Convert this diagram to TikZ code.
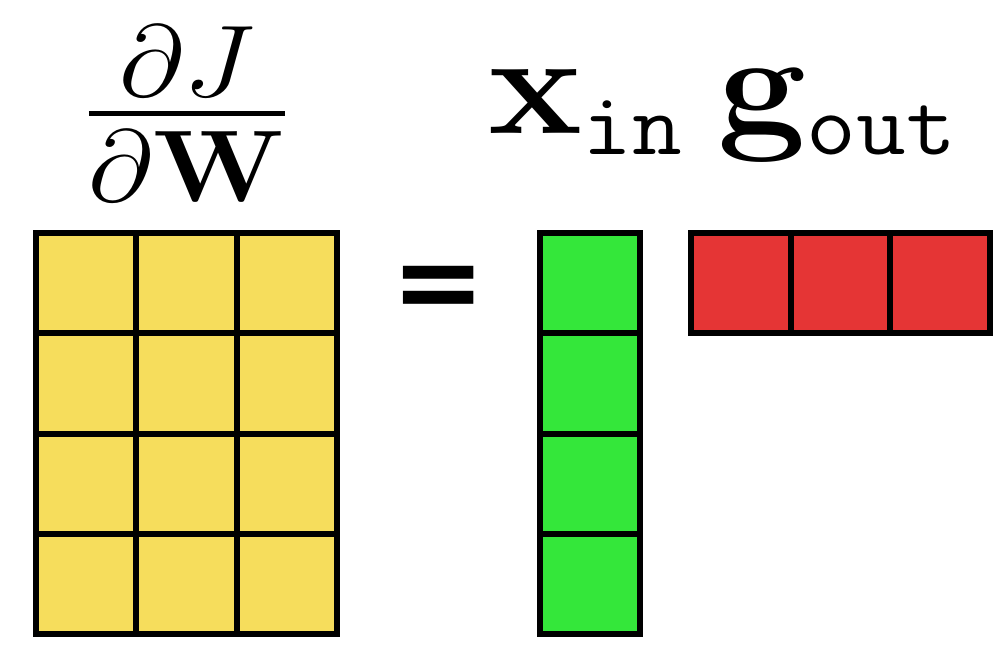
\RequirePackage{fix-cm}
\documentclass[tikz,border=0pt]{standalone}
\usepackage{amsmath}
\usepackage[no-math]{fontspec}
\newfontfamily\eqfont{DejaVu Sans}
\definecolor{cellyellow}{RGB}{246,221,92}
\definecolor{cellgreen}{RGB}{52,231,58}
\definecolor{cellred}{RGB}{229,53,53}
\DeclareMathSizes{82}{82}{50}{40}
\DeclareMathSizes{58}{58}{41}{29}

\begin{document}
\begin{tikzpicture}[x=0.02cm,y=-0.02cm,line join=miter,every node/.style={inner sep=0pt}]
  \useasboundingbox (0,0) rectangle (999,649);
  \def\lw{3.4pt}
  \def\cs{100.3}
  % gradient matrix
  \foreach \i in {0,1,2} {
    \foreach \j in {0,1,2,3} {
      \draw[line width=\lw,fill=cellyellow] ({36+\i*\cs},{233+\j*\cs}) rectangle ++(\cs,\cs);
    }
  }
  \node[anchor=base] (grad) at (187,139) {\fontsize{58}{60}\selectfont\scalebox{1.1}[1]{$\displaystyle\genfrac{}{}{2.8pt}{}{\raisebox{-20pt}{$\partial J$}}{\raisebox{20pt}{$\partial\mathbf{W}$}}$}};
  % equals sign
  \node (eq) at (438.5,293) {\eqfont\bfseries\fontsize{64}{64}\selectfont =};
  % input column
  \foreach \j in {0,1,2,3} {
    \draw[line width=\lw,fill=cellgreen] (540,{233+\j*\cs}) rectangle ++(100,\cs);
  }
  % output row
  \foreach \i in {0,1,2} {
    \draw[line width=\lw,fill=cellred] ({691+\i*99.7},233) rectangle ++(99.7,100);
  }
  \node[anchor=base west] (prod) at (488,133) {\fontsize{82}{84}\selectfont\scalebox{1.1}[1]{$\mathbf{x}_{\mathtt{in}}\hspace{18pt}\mathbf{g}_{\mathtt{out}}$}};
\end{tikzpicture}
\end{document}
